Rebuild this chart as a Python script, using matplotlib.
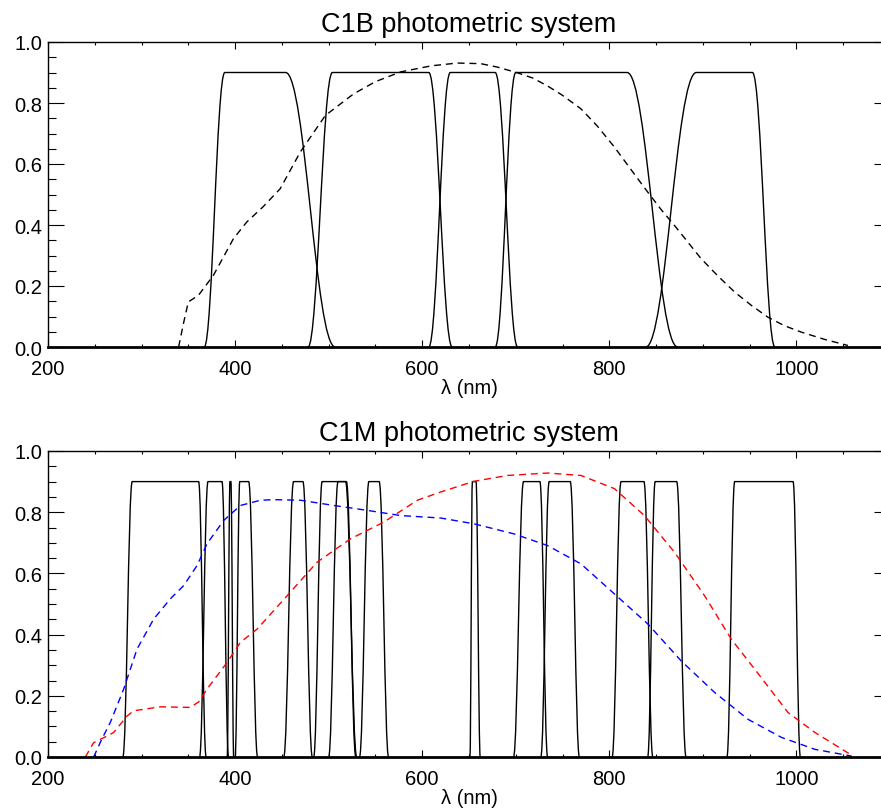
import matplotlib
matplotlib.use("Agg")
import matplotlib.pyplot as plt
from matplotlib.path import Path
from matplotlib.patches import PathPatch
from matplotlib.ticker import MultipleLocator, FormatStrFormatter

plt.rcParams['font.family'] = ['Liberation Sans', 'DejaVu Sans']

# C1B: filterkanter (nm) -> start stigning, topp start, topp slutt, bunn slutt
c1b_a = [367, 478, 607, 678, 839]
c1b_b = [389, 504, 630, 700, 893]
c1b_c = [454, 607, 678, 819, 953]
c1b_d = [507, 632, 702, 873, 977]

# C1M: filterkanter (nm)
c1m_a = [280, 362, 391.5, 400, 452, 484, 500, 533, 651, 697.6, 726.8, 803, 841, 925.7]
c1m_b = [290, 371, 394.5, 405, 462.5, 493, 510, 543, 653.6, 708.3, 735.7, 812.5, 849, 934]
c1m_c = [361, 386, 395.5, 414.5, 472.5, 518, 519, 554, 657.5, 725.8, 758.2, 837, 872, 996.4]
c1m_d = [369, 393, 398.5, 424, 482.5, 530, 529, 564, 662, 734, 768, 846.5, 882, 1004.2]

filter_topp = 0.9

# C1B: stiplet kurve (sort)
c1b_qe_wl = [339.6, 345, 350, 360.7, 376.8, 398.2, 412.5, 430, 448.2, 469.6,
             496.4, 526.7, 550, 577, 610, 637.5, 662.5, 680, 701.8, 718,
             733.9, 750, 769.6, 787, 805.3, 826.7, 841, 855, 869.5, 883.9,
             898, 916, 934, 952, 969.4, 987, 1005, 1030, 1055]
c1b_qe = [0.0, 0.08, 0.148, 0.169, 0.235, 0.355, 0.41, 0.46, 0.519, 0.639,
          0.759, 0.830, 0.870, 0.902, 0.922, 0.931, 0.929, 0.918, 0.899, 0.882,
          0.856, 0.825, 0.781, 0.725, 0.656, 0.567, 0.508, 0.452, 0.399, 0.344,
          0.29, 0.233, 0.180, 0.136, 0.098, 0.070, 0.049, 0.025, 0.005]

# C1M: stiplet kurve (blå)
c1m_blue_wl = [248.8, 257, 266.6, 280.9, 295.2, 313, 330.8, 345, 359.4, 370,
               387.8, 405.7, 427, 441.3, 470, 505.5, 541.2, 576.8, 619.7, 655.4,
               698.2, 734, 769.7, 805.4, 841.1, 876.8, 912.5, 948.3, 984, 1019.8, 1059]
c1m_blue = [0.0, 0.055, 0.113, 0.222, 0.353, 0.451, 0.517, 0.56, 0.626, 0.697,
            0.773, 0.822, 0.839, 0.841, 0.839, 0.822, 0.806, 0.789, 0.781, 0.762,
            0.729, 0.691, 0.631, 0.533, 0.435, 0.314, 0.211, 0.123, 0.064, 0.025, 0.003]

# C1M: stiplet kurve (rød)
c1m_red_wl = [239.9, 248.8, 259.5, 270.2, 284.5, 291.6, 320.1, 352.2, 361, 370,
              391.4, 405.7, 423.5, 455.6, 487.7, 523.4, 559.1, 594.7, 619.7, 655.4,
              691.2, 734, 769.7, 805.4, 837.5, 869.7, 901.8, 930.4, 955.4, 991.1,
              1019.8, 1059]
c1m_red = [0.0, 0.047, 0.063, 0.080, 0.134, 0.151, 0.164, 0.162, 0.180, 0.222,
           0.309, 0.375, 0.418, 0.527, 0.637, 0.713, 0.768, 0.839, 0.866, 0.901,
           0.920, 0.928, 0.920, 0.877, 0.789, 0.669, 0.527, 0.385, 0.287, 0.145,
           0.080, 0.006]


def tegn_filter(ax, a, b, c, d, topp):
    """Avrundet trapes tegnet som bezier-kurve i datakoordinater"""
    ua = 0.4 * (b - a)
    ud = 0.4 * (d - c)
    verts = [(a, 0), (a + ua, 0), (b - ua, topp), (b, topp),
             (c, topp), (c + ud, topp), (d - ud, 0), (d, 0)]
    codes = [Path.MOVETO, Path.CURVE4, Path.CURVE4, Path.CURVE4,
             Path.LINETO, Path.CURVE4, Path.CURVE4, Path.CURVE4]
    ax.add_patch(PathPatch(Path(verts, codes), fill=False, edgecolor="black", lw=1.0))


def sett_akser(ax, tittel):
    ax.set_xlim(200, 1100)
    ax.set_ylim(0, 1.0)
    ax.xaxis.set_major_locator(MultipleLocator(200))
    ax.xaxis.set_minor_locator(MultipleLocator(50))
    ax.yaxis.set_major_locator(MultipleLocator(0.2))
    ax.yaxis.set_minor_locator(MultipleLocator(0.05))
    ax.yaxis.set_major_formatter(FormatStrFormatter("%.1f"))
    ax.tick_params(which="both", direction="in", top=True, right=True, width=0.8)
    ax.tick_params(axis="x", which="major", length=4.7, pad=8.5, labelsize=14.5)
    ax.tick_params(axis="x", which="minor", length=2.4)
    ax.tick_params(axis="y", which="major", length=11.5, pad=4.0, labelsize=14.5)
    ax.tick_params(axis="y", which="minor", length=5.5)
    for s in ax.spines.values():
        s.set_linewidth(1.0)
    ax.spines["bottom"].set_linewidth(2.0)
    ax.set_xlabel("λ (nm)", fontsize=14.5, labelpad=0)
    ax.set_title(tittel, fontsize=19.5, pad=8)


fig = plt.figure(figsize=(8.81, 8.12), dpi=100)
ax1 = fig.add_axes([48 / 881, 1 - 348 / 812, 842 / 881, 305 / 812])
ax2 = fig.add_axes([48 / 881, 1 - 758 / 812, 842 / 881, 306 / 812])

"""Øverste panel: C1B"""
for a, b, c, d in zip(c1b_a, c1b_b, c1b_c, c1b_d):
    tegn_filter(ax1, a, b, c, d, filter_topp)
ax1.plot(c1b_qe_wl, c1b_qe, color="black", lw=1.0, ls=(0, (5, 3.5)))
sett_akser(ax1, "C1B photometric system")

"""Nederste panel: C1M"""
for a, b, c, d in zip(c1m_a, c1m_b, c1m_c, c1m_d):
    tegn_filter(ax2, a, b, c, d, filter_topp)
ax2.plot(c1m_blue_wl, c1m_blue, color="#0000ff", lw=1.0, ls=(0, (5, 3.5)))
ax2.plot(c1m_red_wl, c1m_red, color="#ff0000", lw=1.0, ls=(0, (5, 3.5)))
sett_akser(ax2, "C1M photometric system")

fig.savefig("out.png", dpi=100)
